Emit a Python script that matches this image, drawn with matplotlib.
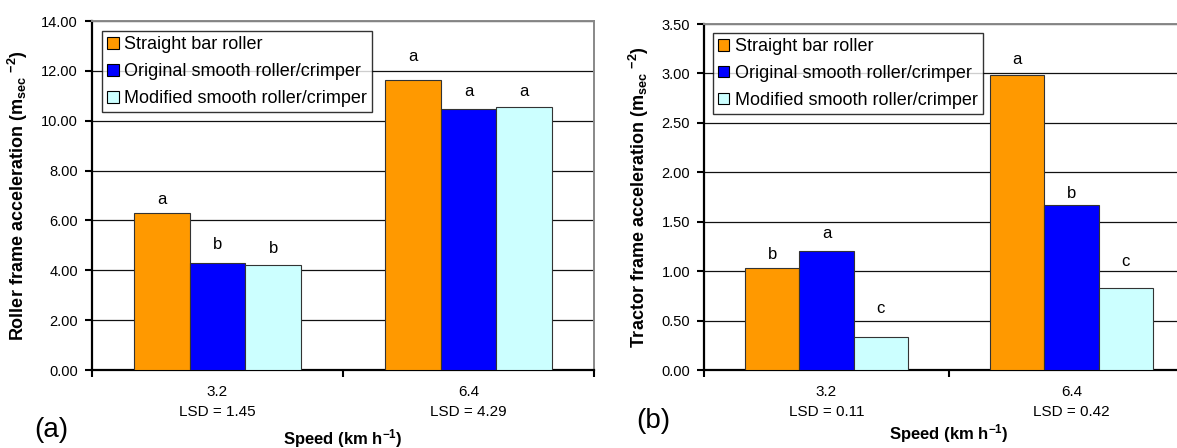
import matplotlib
matplotlib.use('Agg')
import matplotlib.pyplot as plt
import matplotlib.transforms as mtransforms
import numpy as np

plt.rcParams['font.family'] = ['Liberation Sans', 'DejaVu Sans']
plt.rcParams['mathtext.fontset'] = 'custom'
plt.rcParams['mathtext.bf'] = 'Liberation Sans:bold'
plt.rcParams['mathtext.rm'] = 'Liberation Sans:bold'
plt.rcParams['mathtext.default'] = 'bf'

# data
speeds = ['3.2', '6.4']
series_names = ['Straight bar roller', 'Original smooth roller/crimper', 'Modified smooth roller/crimper']
series_colors = ['#FF9900', '#0000FF', '#CCFFFF']

roller_vals = [[6.30, 11.65], [4.30, 10.45], [4.20, 10.55]]
roller_letters = [['a', 'a'], ['b', 'a'], ['b', 'a']]
roller_lsd = ['LSD = 1.45', 'LSD = 4.29']

tractor_vals = [[1.03, 2.98], [1.20, 1.67], [0.33, 0.83]]
tractor_letters = [['b', 'a'], ['a', 'b'], ['c', 'c']]
tractor_lsd = ['LSD = 0.11', 'LSD = 0.42']

W, H = 1177, 448
fig = plt.figure(figsize=(W / 100, H / 100), dpi=100)
fig.set_facecolor('white')


def px_axes(x0, y0, x1, y1):
    # pixel box (top-left origin) -> figure fraction
    return fig.add_axes([x0 / W, (H - y1) / H, (x1 - x0) / W, (y1 - y0) / H])


def draw_panel(ax, vals, letters, lsd, ymax, ystep, ylabel, letter_off, leg_anchor):
    x = np.arange(len(speeds))
    bw = 0.222
    for i, (v, c, name) in enumerate(zip(vals, series_colors, series_names)):
        pos = x + (i - 1) * bw
        ax.bar(pos, v, width=bw, color=c, edgecolor='#333333', linewidth=0.8, label=name, zorder=3)
        for j in range(len(v)):
            ax.annotate(letters[i][j], (pos[j], v[j]), xytext=(0, letter_off[i][j]),
                        textcoords='offset points', ha='center', va='center', fontsize=12, zorder=4)
    ticks = np.arange(0, ymax + ystep / 2, ystep)
    ax.set_ylim(0, ymax)
    ax.set_xlim(-0.5, 1.5)
    ax.set_yticks(ticks)
    ax.set_yticklabels(['%.2f' % t for t in ticks], fontsize=10.5)
    ax.yaxis.grid(True, color='#111111', linewidth=0.9, zorder=0)
    ax.set_axisbelow(True)
    ax.set_xticks([-0.5, 0.5, 1.5])
    ax.set_xticklabels([])
    ax.set_xticks(x, minor=True)
    ax.set_xticklabels([s + '\n' + l for s, l in zip(speeds, lsd)], minor=True, fontsize=11,
                       linespacing=1.55)
    ax.tick_params(axis='x', which='minor', length=0, pad=11)
    ax.tick_params(axis='x', which='major', direction='out', length=5, width=1.5)
    ax.tick_params(axis='y', direction='out', length=5, width=1.5, pad=5)
    for s in ['left', 'bottom']:
        ax.spines[s].set_linewidth(1.6)
        ax.spines[s].set_color('black')
    for s in ['top', 'right']:
        ax.spines[s].set_color('#888888')
        ax.spines[s].set_linewidth(1.4)
    ax.set_ylabel(ylabel, fontsize=13, fontweight='bold')
    leg = ax.legend(loc='upper left', bbox_to_anchor=leg_anchor, borderaxespad=0, fontsize=13,
                    frameon=True, fancybox=False, handlelength=0.62, handleheight=0.62,
                    handletextpad=0.3, labelspacing=0.55, borderpad=0.28)
    leg.get_frame().set_edgecolor('black')
    leg.get_frame().set_linewidth(1.0)
    leg.set_zorder(5)
    for p in leg.get_patches():
        p.set_edgecolor('black')
    return ax


ax1 = px_axes(92, 21, 594, 370)
draw_panel(ax1, roller_vals, roller_letters, roller_lsd, 14, 2,
           r'Roller frame acceleration (m$_{sec}$ $^{-2}$)',
           [[10, 16.5], [13, 13], [12, 11.5]], (0.0207, 0.971))
ax1.yaxis.set_label_coords(-(92 - 30) / (594 - 92), 0.5)
ax1.set_xlabel(r'Speed (km h$^{-1}$)', fontsize=12, fontweight='bold')
ax1.xaxis.set_label_coords(0.5, -(427 - 370) / (370 - 21),
                           transform=mtransforms.blended_transform_factory(ax1.transData, ax1.transAxes))

ax2 = px_axes(704, 24, 1194, 370)
draw_panel(ax2, tractor_vals, tractor_letters, tractor_lsd, 3.5, 0.5,
           r'Tractor frame acceleration (m$_{sec}$ $^{-2}$)',
           [[10, 11.5], [13, 8], [21, 19]], (0.0184, 0.974))
ax2.yaxis.set_label_coords(-(704 - 651) / (1194 - 704), 0.5)
ax2.set_xlabel(r'Speed (km h$^{-1}$)', fontsize=12, fontweight='bold')
ax2.xaxis.set_label_coords(0.5, -(422 - 370) / (370 - 24),
                           transform=mtransforms.blended_transform_factory(ax2.transData, ax2.transAxes))

fig.text(34 / W, 1 - 430 / H, '(a)', fontsize=20, ha='left', va='center')
fig.text(636 / W, 1 - 421 / H, '(b)', fontsize=20, ha='left', va='center')

fig.savefig('out.png', dpi=100)
